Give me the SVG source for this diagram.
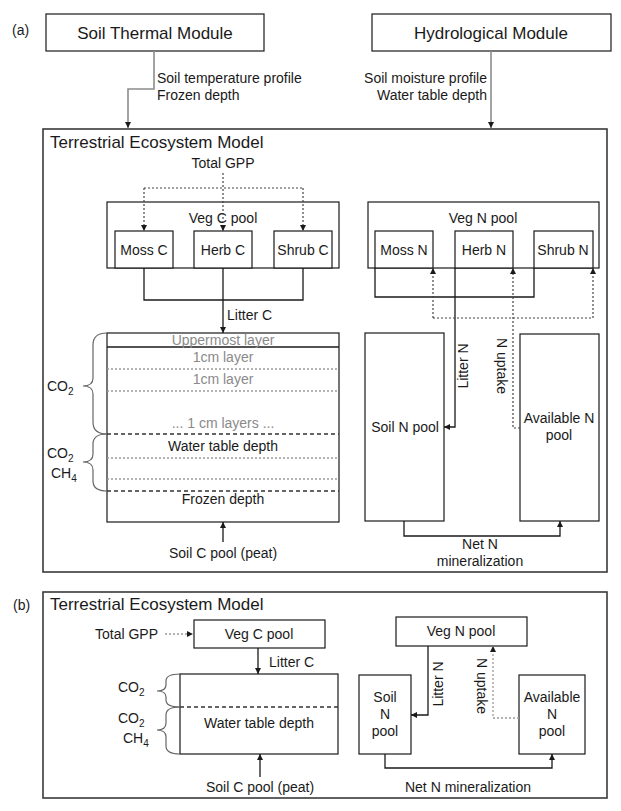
<svg xmlns="http://www.w3.org/2000/svg" width="621" height="811" viewBox="0 0 621 811">
<defs>
<style>
text{font-family:"Liberation Sans",Arial,sans-serif;fill:#1a1a1a;font-size:14px}
.t17{font-size:17px}
.mid{text-anchor:middle}
.end{text-anchor:end}
.gray{fill:#8a8a8a}
.box{fill:#fff;stroke:#1a1a1a;stroke-width:1.2}
.outer{fill:none;stroke:#3a3a3a;stroke-width:1.6}
.ln{fill:none;stroke:#1a1a1a;stroke-width:1.3}
.gln{fill:none;stroke:#8c8c8c;stroke-width:1.6}
.dot{fill:none;stroke:#444;stroke-width:1.2;stroke-dasharray:2 2}
.gdot{fill:none;stroke:#9a9a9a;stroke-width:1.3;stroke-dasharray:2 2}
.dash{fill:none;stroke:#333;stroke-width:1.5;stroke-dasharray:4 3}
.brace{fill:none;stroke:#666;stroke-width:1.2}
</style>
<marker id="ah" viewBox="0 0 10 10" refX="10" refY="5" markerWidth="7" markerHeight="6" orient="auto" markerUnits="userSpaceOnUse">
<path d="M0,0 L10,5 L0,10 z" fill="#1a1a1a"/>
</marker>
</defs>
<rect x="0" y="0" width="621" height="811" fill="#fff"/>

<!-- Panel (a) -->
<text x="12" y="35">(a)</text>
<g id="soilThermal">
<rect class="box" x="46" y="14" width="218" height="37"/>
<text class="t17 mid" x="155" y="39">Soil Thermal Module</text>
</g>
<g id="hydro">
<rect class="box" x="372" y="14" width="239" height="37"/>
<text class="t17 mid" x="491" y="39">Hydrological Module</text>
</g>
<g id="tem-a">
<rect class="outer" x="43" y="129" width="564" height="443"/>
<text class="t17" x="50" y="148">Terrestrial Ecosystem Model</text>
</g>
<text class="mid" x="223" y="168">Total GPP</text>
<g id="vegC-a">
<rect class="box" x="107" y="202" width="232" height="66"/>
<text class="mid" x="223" y="223">Veg C pool</text>
</g>
<g id="mossC"><rect class="box" x="115" y="231" width="58" height="37"/><text class="mid" x="144" y="255">Moss C</text></g>
<g id="herbC"><rect class="box" x="194" y="231" width="58" height="37"/><text class="mid" x="223" y="255">Herb C</text></g>
<g id="shrubC"><rect class="box" x="274" y="231" width="58" height="37"/><text class="mid" x="303" y="255">Shrub C</text></g>

<g id="soilC-a">
<rect class="box" x="107" y="333" width="232" height="189"/>
<line class="ln" x1="107" y1="347" x2="339" y2="347"/>
<line class="gdot" x1="107" y1="369" x2="339" y2="369"/>
<line class="gdot" x1="107" y1="391" x2="339" y2="391"/>
<line class="dash" x1="107" y1="434" x2="339" y2="434"/>
<line class="gdot" x1="107" y1="458" x2="339" y2="458"/>
<line class="gdot" x1="107" y1="479" x2="339" y2="479"/>
<line class="dash" x1="107" y1="491" x2="339" y2="491"/>
<text class="mid gray" x="223" y="345">Uppermost layer</text>
<text class="mid gray" x="223" y="362">1cm layer</text>
<text class="mid gray" x="223" y="384">1cm layer</text>
<text class="mid gray" x="223" y="428">... 1 cm layers ...</text>
<text class="mid" x="223" y="451">Water table depth</text>
<text class="mid" x="223" y="504">Frozen depth</text>
</g>
<text class="mid" x="223" y="558">Soil C pool (peat)</text>
<path class="brace" d="M107,333 Q93,333 93,345 L93,378 Q93,386 83,386 Q93,386 93,394 L93,422 Q93,434 107,434"/>
<path class="brace" d="M107,434 Q93,434 93,444 L93,454 Q93,462 83,462 Q93,462 93,470 L93,481 Q93,491 107,491"/>
<text x="47" y="391">CO<tspan font-size="10" dy="4">2</tspan></text>
<text x="47" y="458">CO<tspan font-size="10" dy="4">2</tspan></text>
<text x="51" y="478">CH<tspan font-size="10" dy="4">4</tspan></text>

<g id="vegN-a">
<rect class="box" x="368" y="202" width="231" height="66"/>
<text class="mid" x="483" y="223">Veg N pool</text>
</g>
<g id="mossN"><rect class="box" x="375" y="231" width="58" height="37"/><text class="mid" x="404" y="255">Moss N</text></g>
<g id="herbN"><rect class="box" x="455" y="231" width="58" height="37"/><text class="mid" x="484" y="255">Herb N</text></g>
<g id="shrubN"><rect class="box" x="534" y="231" width="59" height="37"/><text class="mid" x="563" y="255">Shrub N</text></g>
<g id="soilN-a">
<rect class="box" x="365" y="333" width="79" height="188"/>
<text class="mid" x="405" y="432">Soil N pool</text>
</g>
<g id="availN-a">
<rect class="box" x="520" y="334" width="79" height="187"/>
<text class="mid" x="559" y="423">Available N</text>
<text class="mid" x="559" y="440">pool</text>
</g>

<!-- Panel (b) -->
<text x="13" y="610">(b)</text>
<g id="tem-b">
<rect class="outer" x="43" y="592" width="564" height="206"/>
<text class="t17" x="50" y="610">Terrestrial Ecosystem Model</text>
</g>
<text x="95" y="639">Total GPP</text>
<g id="vegC-b">
<rect class="box" x="194" y="620" width="131" height="28"/>
<text class="mid" x="259" y="639">Veg C pool</text>
</g>
<g id="soilC-b">
<rect class="box" x="180" y="674" width="158" height="80"/>
<line class="dash" x1="180" y1="707" x2="338" y2="707"/>
<text class="mid" x="259" y="728">Water table depth</text>
</g>
<text class="mid" x="260" y="792">Soil C pool (peat)</text>
<path class="brace" d="M180,674 Q166,674 166,681 L166,685 Q166,691 157,691 Q166,691 166,697 L166,700 Q166,707 180,707"/>
<path class="brace" d="M180,707 Q166,707 166,715 L166,723 Q166,730 157,730 Q166,730 166,737 L166,746 Q166,754 180,754"/>
<text x="118" y="692">CO<tspan font-size="10" dy="4">2</tspan></text>
<text x="118" y="723">CO<tspan font-size="10" dy="4">2</tspan></text>
<text x="123" y="743">CH<tspan font-size="10" dy="4">4</tspan></text>
<g id="vegN-b">
<rect class="box" x="396" y="617" width="131" height="29"/>
<text class="mid" x="461" y="636">Veg N pool</text>
</g>
<g id="soilN-b">
<rect class="box" x="359" y="675" width="52" height="79"/>
<text class="mid" x="385" y="702">Soil</text>
<text class="mid" x="385" y="719">N</text>
<text class="mid" x="385" y="736">pool</text>
</g>
<g id="availN-b">
<rect class="box" x="519" y="675" width="66" height="79"/>
<text class="mid" x="552" y="702">Available</text>
<text class="mid" x="552" y="719">N</text>
<text class="mid" x="552" y="736">pool</text>
</g>
<text class="mid" x="468" y="792">Net N mineralization</text>

<!-- Connectors -->
<g id="connectors">
<path class="gln" d="M154,51 V89 H128 V128" marker-end="url(#ah)"/>
<text x="157" y="83">Soil temperature profile</text>
<text x="157" y="100">Frozen depth</text>
<path class="gln" d="M491,51 V128" marker-end="url(#ah)"/>
<text class="end" x="487" y="83">Soil moisture profile</text>
<text class="end" x="487" y="100">Water table depth</text>

<path class="dot" d="M223,173 V231" marker-end="url(#ah)"/>
<path class="dot" d="M144,188 H303"/>
<path class="dot" d="M144,188 V231" marker-end="url(#ah)"/>
<path class="dot" d="M303,188 V231" marker-end="url(#ah)"/>
<path class="ln" d="M144,268 V300 H303 V268"/>
<path class="ln" d="M223,268 V333" marker-end="url(#ah)"/>
<text x="227" y="320">Litter C</text>
<path class="ln" d="M223,542 V522" marker-end="url(#ah)"/>

<path class="ln" d="M375,268 V297 H534 V268"/>
<path class="ln" d="M455,268 V427 H444" marker-end="url(#ah)"/>
<text class="mid" transform="translate(468,366) rotate(-90)">Litter N</text>
<path class="dot" d="M520,428 H513 V268" marker-end="url(#ah)"/>
<path class="dot" d="M433,318 H593"/>
<path class="dot" d="M433,318 V268" marker-end="url(#ah)"/>
<path class="dot" d="M593,318 V268" marker-end="url(#ah)"/>
<text class="mid" transform="translate(497,366) rotate(90)">N uptake</text>
<path class="ln" d="M404,521 V536 H560 V521" marker-end="url(#ah)"/>
<text class="mid" x="480" y="549">Net N</text>
<text class="mid" x="480" y="566">mineralization</text>

<path class="gdot" d="M165,634 H193" marker-end="url(#ah)"/>
<path class="ln" d="M258,648 V674" marker-end="url(#ah)"/>
<text x="269" y="667">Litter C</text>
<path class="ln" d="M260,777 V754" marker-end="url(#ah)"/>
<path class="ln" d="M428,646 V715 H411" marker-end="url(#ah)"/>
<text class="mid" transform="translate(443,684) rotate(-90)">Litter N</text>
<path class="gdot" d="M519,718 H493 V646" marker-end="url(#ah)"/>
<text class="mid" transform="translate(477,686) rotate(90)">N uptake</text>
<path class="ln" d="M385,754 V768 H552 V754" marker-end="url(#ah)"/>
</g>
</svg>
